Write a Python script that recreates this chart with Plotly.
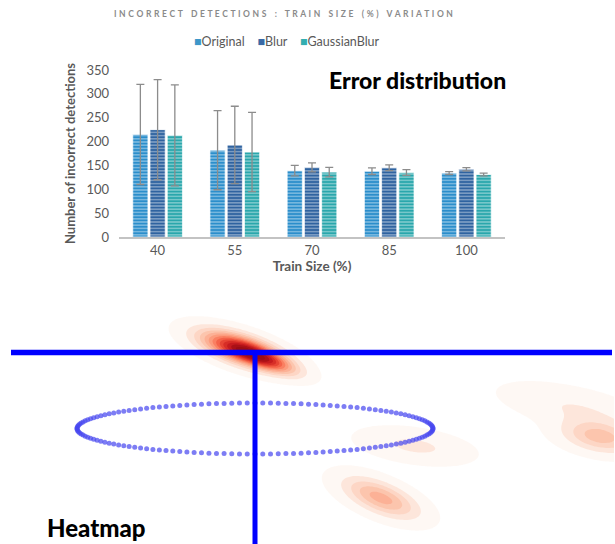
import numpy as np
import plotly.graph_objects as go

# ---------------- data ----------------
train_sizes = ["40", "55", "70", "85", "100"]
series_names = ["Original", "Blur", "GaussianBlur"]
original = [215, 182, 139, 138, 134]
original_err = [105, 83, 11, 7, 3]
blur = [225, 193, 146, 145, 142]
blur_err = [105, 81, 9.5, 6, 3.5]
gaussian = [213, 178, 136, 135, 131]
gaussian_err = [106, 83, 10, 6, 3]
y_ticks = [0, 50, 100, 150, 200, 250, 300, 350]

# heat blobs (pixel-space illustration): cx, cy, angle(deg), sigma_major, sigma_minor, intensity
blob_cx = [243, 270, 381, 415, 600, 575]
blob_cy = [350, 362, 498, 446, 437, 408]
blob_ang = [18, 20, 22, 8, 10, 12]
blob_sa = [28, 20, 26, 34, 25, 45]
blob_sb = [9, 6, 10, 10, 10, 12]
blob_int = [0.95, 0.35, 0.38, 0.12, 0.3, 0.1]

# ellipse of dots (illustration)
ell_cx, ell_cy, ell_a, ell_b, ell_n = 255, 428.5, 178, 25.5, 144

TXT = "#595959"
FONT = "Lato"

fig = go.Figure()

colors = ["#2B8ECB", "#2F63A0", "#2AA7AC"]
legend_colors = ["#3D97C9", "#3A6AA6", "#33AEB0"]
vals = [original, blur, gaussian]
errs = [original_err, blur_err, gaussian_err]
for name, c, v, e in zip(series_names, colors, vals, errs):
    fig.add_trace(go.Bar(
        x=train_sizes, y=v, name=name, showlegend=False,
        marker=dict(color=c,
                    line=dict(color="rgba(255,255,255,0.7)", width=1),
                    pattern=dict(shape="-", size=3.2, solidity=0.4,
                                 fgcolor="rgba(255,255,255,0.45)", bgcolor=c,
                                 fillmode="replace")),
        error_y=dict(type="data", array=e, color="#8c8c8c", thickness=1.3, width=4),
        xaxis="x", yaxis="y",
    ))

# ---- heatmap illustration ----
gx = np.arange(0, 616, 2.0)
gy = np.arange(300, 545, 2.0)
X, Y = np.meshgrid(gx, gy)
Z = np.zeros_like(X)
for cx, cy, ang, sa, sb, I in zip(blob_cx, blob_cy, blob_ang, blob_sa, blob_sb, blob_int):
    t = np.deg2rad(ang)
    u = (X - cx) * np.cos(t) + (Y - cy) * np.sin(t)
    w = -(X - cx) * np.sin(t) + (Y - cy) * np.cos(t)
    Z = Z + I * np.exp(-0.5 * ((u / sa) ** 2 + (w / sb) ** 2))
Z = np.clip(Z, 0, 1)

fig.add_trace(go.Contour(
    x=gx, y=gy, z=Z, xaxis="x2", yaxis="y2",
    zmin=0, zmax=1, showscale=False, hoverinfo="skip",
    contours=dict(coloring="fill", start=0.02, end=1.0, size=0.08),
    line=dict(width=0),
    colorscale=[[0, "rgba(255,255,255,0)"], [0.02, "rgba(255,255,255,0)"],
                [0.05, "#fef1ea"], [0.15, "#fde2d6"], [0.3, "#fcc3ab"],
                [0.45, "#fc9f80"], [0.6, "#f86c4f"], [0.75, "#e0372b"],
                [0.9, "#c0151b"], [1, "#9b0c12"]],
    showlegend=False,
))

th = np.linspace(0, 2 * np.pi, ell_n, endpoint=False)
fig.add_trace(go.Scatter(
    x=ell_cx + ell_a * np.cos(th), y=ell_cy + ell_b * np.sin(th),
    mode="markers", marker=dict(size=5, color="rgba(70,70,240,0.7)"),
    xaxis="x2", yaxis="y2", showlegend=False, hoverinfo="skip"))

fig.add_trace(go.Scatter(x=[11, 612], y=[352.5, 352.5], mode="lines",
                         line=dict(color="#0000ff", width=5.5),
                         xaxis="x2", yaxis="y2", showlegend=False, hoverinfo="skip"))
fig.add_trace(go.Scatter(x=[255, 255], y=[352.5, 546], mode="lines",
                         line=dict(color="#0000ff", width=5),
                         xaxis="x2", yaxis="y2", showlegend=False, hoverinfo="skip"))

title_words = "INCORRECT DETECTIONS : TRAIN SIZE (%) VARIATION".split(" ")
spaced_title = ("\u00a0" * 4).join("\u00a0\u200a".join(list(wd)) for wd in title_words)

legend_text = "\u00a0\u00a0\u00a0\u00a0".join(
    f'<span style="color:{c}">■</span>{n}' for c, n in zip(legend_colors, series_names))

W, H = 615, 544
fig.update_layout(
    width=W, height=H, margin=dict(l=0, r=0, t=0, b=0, autoexpand=False),
    paper_bgcolor="white", plot_bgcolor="rgba(0,0,0,0)",
    font=dict(family=FONT, color=TXT, size=13),
    barmode="group", bargap=0.33, bargroupgap=0.12,
    showlegend=False,
    xaxis=dict(domain=[119 / W, 505 / W], anchor="y", type="category",
               showline=True, linecolor="#c3c3c3", linewidth=2, ticks="",
               showgrid=False, tickfont=dict(size=13, color=TXT),
               title=dict(text="<b>Train Size (%)</b>", font=dict(size=13.5, color=TXT), standoff=5)),
    yaxis=dict(domain=[1 - 237 / H, 1 - 70 / H], anchor="x", range=[0, 350],
               tickvals=y_ticks, showgrid=False, zeroline=False, showline=False,
               ticks="", tickfont=dict(size=13, color=TXT), ticklabelstandoff=9,
               title=dict(text="<b>Number of incorrect detections</b>",
                          font=dict(size=13, color=TXT), standoff=7)),
    xaxis2=dict(domain=[0, 1], range=[0, W], visible=False, anchor="y2"),
    yaxis2=dict(domain=[0, 1], range=[H, 0], visible=False, anchor="x2"),
    annotations=[
        dict(text="<b>" + spaced_title + "</b>", x=283 / W, y=1 - 14 / H, xref="paper", yref="paper",
             xanchor="center", yanchor="middle", showarrow=False,
             font=dict(size=8.5, color="#8a8a8a", family=FONT)),
        dict(text=legend_text, x=287 / W, y=1 - 42 / H, xref="paper", yref="paper",
             xanchor="center", yanchor="middle", showarrow=False,
             font=dict(size=12.5, color=TXT, family=FONT)),
        dict(text="Error distribution", x=508 / W, y=1 - 80 / H, xref="paper", yref="paper",
             xanchor="right", yanchor="middle", showarrow=False,
             font=dict(size=23, color="black", family=FONT, weight=900)),
        dict(text="Heatmap", x=45 / W, y=1 - 527 / H, xref="paper", yref="paper",
             xanchor="left", yanchor="middle", showarrow=False,
             font=dict(size=24, color="black", family=FONT, weight=900)),
    ],
)

fig.write_html(
    "out.html",
    config={"displayModeBar": False},
    post_script=("var gd=document.getElementById('{plot_id}');"
                 "gd.style.position='fixed';gd.style.top='0px';gd.style.left='0px';"
                 "document.documentElement.style.margin='0';document.body.style.margin='0';"
                 "document.documentElement.style.overflow='hidden';document.body.style.overflow='hidden';"),
)
